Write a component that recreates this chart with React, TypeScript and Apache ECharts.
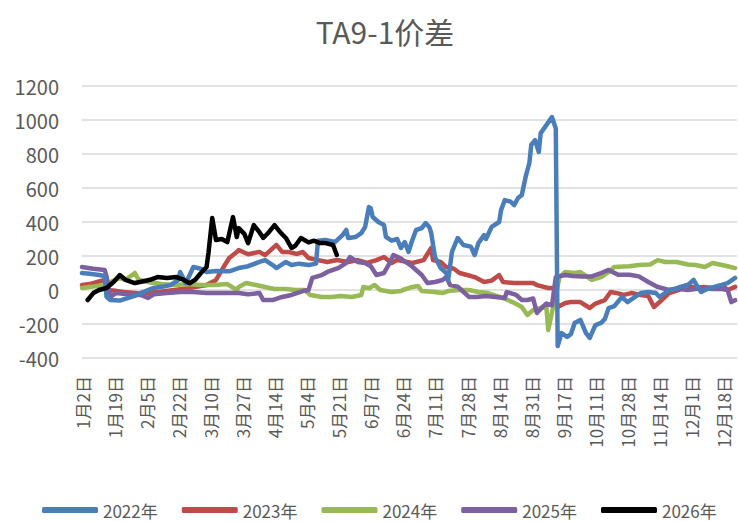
import React, { useEffect, useRef } from "react";
import * as echarts from "echarts";

// Category labels: calendar days (leap-year calendar), holidays skipped
const SKIP_DAYS = ["4-4", "5-1", "5-2", "5-3", "10-1", "10-2", "10-3", "10-4", "10-5", "10-6", "10-7"];
const CATEGORY_COUNT = 348;
const categories: string[] = [];
{
  const skip = new Set(SKIP_DAYS);
  const d = new Date(2024, 0, 2);
  while (categories.length < CATEGORY_COUNT) {
    const m = d.getMonth() + 1;
    const day = d.getDate();
    if (!skip.has(`${m}-${day}`)) categories.push(`${m}月${day}日`);
    d.setDate(d.getDate() + 1);
  }
}

const seriesNames = ["2022年", "2023年", "2024年", "2025年", "2026年"];
const colors = ["#4a7ebb", "#be4b48", "#98b954", "#7d60a0", "#000000"];

// [category index, value]
const y2022: [number, number][] = [
  [0, 100], [4, 95], [9, 88], [12, 82], [13, -40], [15, -59], [20, -62], [22, -55], [28, -35], [31, -18],
  [38, 12], [43, 20], [47, 29], [51, 60], [52, 106], [55, 40], [59, 135], [63, 125], [66, 106], [71, 112],
  [78, 110], [83, 129], [88, 140], [94, 165], [97, 176], [101, 147], [103, 129], [108, 165], [111, 147],
  [115, 155], [120, 147], [124, 155], [125, 290], [129, 294], [134, 282], [138, 323], [140, 353], [141, 306],
  [145, 312], [148, 335], [150, 371], [152, 488], [153, 480], [154, 429], [157, 400], [160, 382], [161, 312],
  [164, 290], [167, 300], [169, 247], [171, 282], [173, 224], [175, 294], [177, 353], [180, 364], [182, 394],
  [184, 370], [185, 335], [187, 194], [190, 129], [193, 100], [194, 59], [196, 224], [199, 306], [202, 265],
  [206, 255], [208, 206], [210, 276], [213, 323], [214, 300], [217, 371], [221, 400], [222, 470], [224, 529],
  [227, 520], [229, 500], [231, 541], [233, 559], [235, 665], [237, 747], [238, 853], [240, 882], [242, 812],
  [243, 923], [246, 970], [249, 1017], [251, 950], [252, -330], [254, -253], [257, -276], [259, -260],
  [261, -194], [264, -176], [267, -253], [269, -282], [272, -206], [275, -194], [277, -170], [279, -106],
  [282, -95], [286, -41], [289, -71], [293, -41], [296, -18], [300, -12], [304, -18], [306, -41], [311, 0],
  [314, 6], [317, 18], [321, 30], [324, 59], [325, 40], [328, -12], [332, 10], [335, 18], [339, 30],
  [342, 41], [346, 71],
];

const y2023: [number, number][] = [
  [0, 29], [4, 35], [9, 50], [12, 59], [13, 0], [18, -5], [22, -12], [31, -20], [40, -12], [49, 0],
  [57, 12], [66, 29], [71, 59], [75, 135], [78, 188], [82, 224], [83, 235], [88, 210], [94, 224], [97, 205],
  [103, 265], [106, 224], [109, 224], [114, 212], [117, 224], [120, 188], [125, 176], [130, 165], [135, 176],
  [141, 165], [146, 176], [151, 159], [156, 176], [160, 194], [164, 159], [167, 176], [170, 170], [175, 159],
  [181, 176], [182, 194], [185, 247], [186, 176], [190, 165], [193, 135], [197, 125], [200, 100], [204, 88],
  [208, 76], [213, 47], [217, 55], [221, 88], [223, 47], [229, 41], [235, 41], [239, 41], [241, 29],
  [247, 12], [250, 12], [252, -100], [256, -76], [259, -71], [264, -71], [269, -106], [272, -80], [277, -59],
  [280, -12], [284, -20], [287, -29], [291, -18], [296, -29], [300, -35], [303, -100], [306, -71], [311, -18],
  [316, 0], [320, 29], [325, 12], [329, 18], [334, 12], [339, 29], [342, 0], [346, 18],
];

const y2024: [number, number][] = [
  [0, 12], [6, 20], [11, 29], [15, 47], [20, 71], [23, 60], [28, 100], [30, 60], [35, 47], [42, 35],
  [49, 29], [56, 35], [63, 29], [70, 29], [77, 35], [82, 0], [83, 18], [87, 41], [92, 29], [97, 18],
  [102, 6], [108, 6], [113, 0], [118, 0], [121, -29], [127, -41], [132, -41], [137, -35], [143, -41],
  [148, -29], [149, 18], [152, 10], [155, 29], [158, 0], [164, -12], [169, -6], [170, 0], [175, 18],
  [178, 24], [180, -6], [187, -12], [191, -18], [194, -6], [199, 0], [205, 0], [210, -12], [215, -18],
  [223, -47], [229, -76], [233, -100], [236, -147], [239, -118], [243, -106], [246, -100], [247, -235],
  [249, -130], [251, -30], [253, 76], [256, 106], [261, 100], [264, 106], [270, 60], [275, 76], [279, 106],
  [282, 135], [290, 140], [295, 147], [301, 150], [305, 176], [309, 165], [315, 165], [321, 150], [325, 147],
  [330, 135], [334, 159], [339, 147], [342, 140], [346, 129],
];

const y2025: [number, number][] = [
  [0, 135], [6, 125], [12, 118], [13, 80], [15, -41], [18, -18], [24, -25], [31, -29], [35, -47], [38, -25],
  [45, -18], [52, -12], [59, -12], [66, -18], [73, -18], [80, -18], [83, -18], [88, -25], [94, -18],
  [96, -59], [101, -59], [106, -41], [111, -29], [117, -6], [120, 0], [122, 71], [127, 88], [130, 106],
  [136, 130], [140, 159], [142, 194], [146, 165], [150, 159], [153, 140], [156, 88], [160, 100], [163, 159],
  [165, 206], [169, 185], [170, 176], [174, 147], [177, 118], [180, 88], [183, 41], [187, 47], [191, 59],
  [193, 76], [195, 29], [199, 20], [201, 0], [205, -41], [209, -41], [214, -35], [219, -41], [224, -47],
  [225, -12], [230, -29], [233, -59], [236, -59], [239, -50], [241, -135], [244, -100], [246, -80],
  [249, -90], [251, 76], [256, 88], [260, 82], [265, 80], [270, 80], [275, 100], [279, 118], [284, 90],
  [290, 90], [295, 80], [300, 47], [305, 18], [311, 0], [316, 6], [321, 0], [325, 6], [329, 12], [334, 6],
  [339, 6], [342, 0], [344, -71], [346, -60],
];

const y2026: [number, number][] = [
  [3, -59], [6, -18], [9, 0], [13, 12], [17, 50], [20, 88], [23, 60], [28, 41], [32, 50], [36, 60],
  [40, 76], [45, 70], [50, 76], [54, 59], [57, 40], [60, 60], [63, 100], [66, 135], [67, 218], [69, 423],
  [71, 294], [74, 300], [77, 282], [80, 429], [82, 312], [83, 364], [86, 330], [88, 276], [91, 382],
  [94, 340], [96, 306], [99, 340], [102, 382], [105, 340], [108, 306], [111, 247], [113, 260], [116, 306],
  [120, 280], [123, 290], [126, 276], [129, 276], [133, 265], [135, 206],
];

const seriesData = [y2022, y2023, y2024, y2025, y2026];

const Y_MIN = -400;
const Y_MAX = 1200;
const Y_STEP = 200;

const FONT = "'Noto Sans CJK SC', 'Noto Sans', sans-serif";
const TEXT_COLOR = "#595959";

export default function App() {
  const ref = useRef<HTMLDivElement>(null);
  useEffect(() => {
    if (!ref.current) return;
    const chart = echarts.init(ref.current, undefined, { renderer: "svg" });
    chart.setOption({
      animation: false,
      backgroundColor: "#ffffff",
      textStyle: { fontFamily: FONT },
      graphic: [
        {
          type: "text",
          x: 385,
          y: 31,
          style: {
            text: "TA9-1价差",
            fill: TEXT_COLOR,
            font: `30px ${FONT}`,
            textAlign: "center",
            textVerticalAlign: "middle",
          },
        },
      ],
      grid: { left: 82, right: 1, top: 86, bottom: 164, containLabel: false },
      legend: {
        data: seriesNames,
        left: 42,
        top: 501,
        itemWidth: 56,
        itemHeight: 6,
        itemGap: 24,
        padding: 0,
        icon: "roundRect",
        textStyle: { color: TEXT_COLOR, fontSize: 17, lineHeight: 18, fontFamily: FONT },
      },
      xAxis: {
        type: "category",
        data: categories,
        boundaryGap: false,
        axisLine: { show: false },
        axisTick: { show: false },
        axisLabel: {
          interval: 16,
          rotate: 90,
          fontSize: 17,
          color: TEXT_COLOR,
          margin: 18,
          fontFamily: FONT,
        },
        splitLine: { show: false },
      },
      yAxis: {
        type: "value",
        min: Y_MIN,
        max: Y_MAX,
        interval: Y_STEP,
        axisLine: { show: false },
        axisTick: { show: false },
        axisLabel: {
          fontSize: 20,
          color: TEXT_COLOR,
          margin: 23,
          fontFamily: FONT,
          formatter: (v: number) => String(v),
        },
        splitLine: { lineStyle: { color: "#d9d9d9", width: 1.5 } },
      },
      series: seriesNames.map((name, i) => ({
        name,
        type: "line",
        data: seriesData[i],
        showSymbol: false,
        symbol: "none",
        color: colors[i],
        lineStyle: { width: 4.5, color: colors[i], cap: "round", join: "round" },
        z: i === 4 ? 5 : 2 + (i === 0 ? 0.5 : 0),
      })),
    });
    return () => chart.dispose();
  }, []);
  return (
    <div
      ref={ref}
      style={{ position: "fixed", left: 0, top: 0, width: 738, height: 522, background: "#fff" }}
    />
  );
}
